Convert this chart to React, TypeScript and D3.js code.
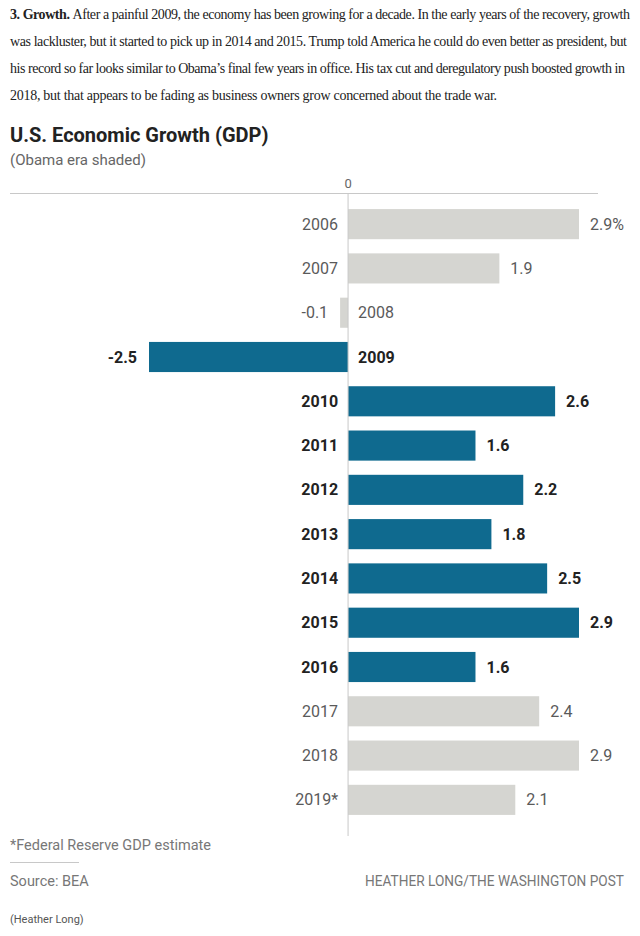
import * as d3 from 'd3';

const years = ['2006', '2007', '2008', '2009', '2010', '2011', '2012', '2013', '2014', '2015', '2016', '2017', '2018', '2019*'];
const growth = [2.9, 1.9, -0.1, -2.5, 2.6, 1.6, 2.2, 1.8, 2.5, 2.9, 1.6, 2.4, 2.9, 2.1];
const obamaYears = ['2009', '2010', '2011', '2012', '2013', '2014', '2015', '2016'];

const introLines = [
  'After a painful 2009, the economy has been growing for a decade. In the early years of the recovery, growth',
  'was lackluster, but it started to pick up in 2014 and 2015. Trump told America he could do even better as president, but',
  'his record so far looks similar to Obama’s final few years in office. His tax cut and deregulatory push boosted growth in',
  '2018, but that appears to be fading as business owners grow concerned about the trade war.',
];
const introWidths = [620, 617, 615, 487];

const BLUE = '#0f6a8f';
const GRAY = '#d5d5d1';
const SANS = 'Roboto, "Liberation Sans", sans-serif';
const SERIF = '"Liberation Serif", "DejaVu Serif", serif';

export default function App() {
  const width = 640;
  const height = 936;

  const x = d3.scaleLinear().domain([-2.5, 2.9]).range([149, 579]);
  const y = d3.scaleBand<string>().domain(years).range([202, 822]).paddingInner(0.32).paddingOuter(0.16);
  const x0 = x(0);

  const rows = years.map((yr, i) => ({ yr, v: growth[i], obama: obamaYears.includes(yr), i }));

  return (
    <div style={{ position: 'absolute', top: 0, left: 0 }}>
      <svg width={width} height={height} style={{ display: 'block', background: '#fff' }}>
        {/* intro paragraph */}
        {introLines.map((line, i) => (
          <text
            key={i}
            x={10}
            y={19 + i * 27}
            fontFamily={SERIF}
            fontSize={14}
            fill="#222"
            textLength={introWidths[i]}
            lengthAdjust="spacing"
          >
            {i === 0 && <tspan fontWeight="bold">3. Growth. </tspan>}
            {line}
          </text>
        ))}

        {/* title */}
        <text x={10} y={142} fontFamily={SANS} fontSize={20} fontWeight="bold" fill="#222">
          U.S. Economic Growth (GDP)
        </text>
        <text x={10} y={165} fontFamily={SANS} fontSize={15} fill="#666">
          (Obama era shaded)
        </text>

        {/* axis */}
        <text x={x0} y={188} textAnchor="middle" fontFamily={SANS} fontSize={13} fill="#666">
          0
        </text>
        <line x1={10} x2={598} y1={193.5} y2={193.5} stroke="#c8c8c8" strokeWidth={1} />

        {rows.map((r) => {
          const by = y(r.yr)!;
          const bh = y.bandwidth();
          const cy = by + bh / 2;
          const fill = r.obama ? BLUE : GRAY;
          const textFill = r.obama ? '#222' : '#5a5a5a';
          const weight = r.obama ? 'bold' : 'normal';
          const label = r.v.toFixed(1) + (r.i === 0 ? '%' : '');
          const pos = r.v >= 0;
          return (
            <g key={r.yr} fontFamily={SANS} fontSize={16} fill={textFill} fontWeight={weight}>
              <rect x={Math.min(x(r.v), x0)} y={by} width={Math.abs(x(r.v) - x0)} height={bh} fill={fill} />
              <text x={pos ? x0 - 10 : x0 + 10} y={cy} dy="0.35em" textAnchor={pos ? 'end' : 'start'}>
                {r.yr}
              </text>
              <text x={pos ? x(r.v) + 11 : x(r.v) - 12} y={cy} dy="0.35em" textAnchor={pos ? 'start' : 'end'}>
                {label}
              </text>
            </g>
          );
        })}

        <line x1={x0} x2={x0} y1={193} y2={836} stroke="#c8c8c8" strokeWidth={1} />

        {/* footer */}
        <text x={10} y={850} fontFamily={SANS} fontSize={14.5} fill="#777">
          *Federal Reserve GDP estimate
        </text>
        <line x1={10} x2={79} y1={862.5} y2={862.5} stroke="#c8c8c8" strokeWidth={1} />
        <text x={10} y={886} fontFamily={SANS} fontSize={14.5} fill="#777">
          Source: BEA
        </text>
        <text x={624} y={886} textAnchor="end" fontFamily={SANS} fontSize={14} fill="#777" textLength={259} lengthAdjust="spacingAndGlyphs">
          HEATHER LONG/THE WASHINGTON POST
        </text>
        <text x={10} y={923} fontFamily={SANS} fontSize={11} fill="#555">
          (Heather Long)
        </text>
      </svg>
    </div>
  );
}
